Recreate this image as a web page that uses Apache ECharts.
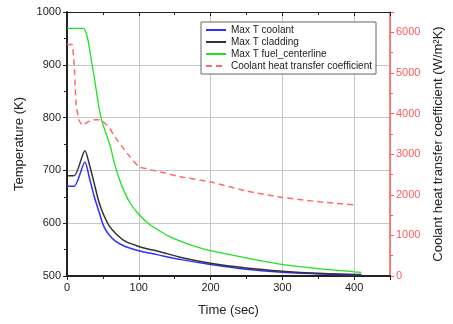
<!DOCTYPE html>
<html><head><meta charset="utf-8">
<script src="https://cdn.jsdelivr.net/npm/echarts@6/dist/echarts.min.js"></script>
<style>html,body{margin:0;padding:0;background:#fff}#c{width:453px;height:324px}</style>
</head><body><div id="c"></div>
<script>
var coolantTime = [0, 10, 25, 31, 38, 44.5, 51, 58, 67.5, 81, 100, 113, 127, 159, 200, 250, 300, 350, 400, 410];
var coolantT    = [670, 670, 716, 687, 650, 622, 595, 579, 566, 556, 548, 544, 540, 531, 522, 513, 507, 504, 502, 502];
var claddingTime = [0, 10, 25, 31, 38, 44.5, 51, 58, 67.5, 81, 100, 113, 127, 159, 200, 250, 300, 350, 400, 410];
var claddingT    = [690, 690, 737, 712, 675, 640, 616, 597, 581, 566, 556, 551, 547, 535, 524, 515, 509, 505, 503, 503];
var fuelTime = [0, 22.5, 35, 47, 60.5, 65, 72, 81, 90, 100, 113, 127, 145, 170, 200, 251, 300, 350, 400, 410];
var fuelT    = [969, 969, 900, 802, 745, 719, 687, 656, 634, 617, 600, 587, 573, 560, 548, 534, 522, 514, 508, 507];
var htcTime = [0, 7, 10, 11.5, 13, 17, 21.5, 28, 35, 47, 58, 67, 77, 88, 100, 113, 130, 159, 200, 251, 300, 352, 405];
var htc     = [5700, 5700, 5230, 4650, 4160, 3830, 3710, 3780, 3850, 3850, 3670, 3420, 3180, 2930, 2690, 2630, 2560, 2440, 2317, 2088, 1934, 1826, 1744];
var xLabels = [0, 100, 200, 300, 400];

function pairs(xs, ys){ return xs.map(function(x,i){ return [x, ys[i]]; }); }
var font = '"Liberation Sans", Arial, sans-serif';
var chart = echarts.init(document.getElementById('c'));
chart.setOption({
  animation:false,
  backgroundColor:'#fff',
  textStyle:{fontFamily:font},
  grid:{left:67, right:58, top:12, bottom:48, containLabel:false},
  legend:{
    orient:'vertical', left:201, top:22, itemGap:2, itemWidth:20, itemHeight:10,
    padding:[3,4,3,4], borderColor:'#666', borderWidth:1, backgroundColor:'#fff',
    itemStyle:{opacity:0},
    textStyle:{fontSize:10, color:'#222', fontFamily:font},
    data:['Max T coolant','Max T cladding','Max T fuel_centerline','Coolant heat transfer coefficient']
  },
  xAxis:[{
    type:'value', min:0, max:450, interval:100, position:'bottom',
    name:'Time (sec)', nameLocation:'middle', nameGap:28,
    nameTextStyle:{fontSize:13, color:'#222', fontFamily:font},
    axisLine:{show:true, onZero:false, lineStyle:{color:'#222', width:2}},
    axisTick:{show:true, inside:false, length:4, lineStyle:{color:'#222'}},
    minorTick:{show:true, splitNumber:2, length:3, lineStyle:{color:'#222'}},
    axisLabel:{fontSize:11, color:'#222', margin:6, showMaxLabel:false, fontFamily:font,
      formatter:function(v){ return xLabels.indexOf(v) >= 0 ? String(v) : ''; }},
    splitLine:{show:true, lineStyle:{color:'#c8c8c8', width:1}}
  },{
    type:'value', min:0, max:450, interval:100, position:'top',
    axisLine:{show:true, onZero:false, lineStyle:{color:'#222', width:1}},
    axisTick:{show:true, inside:true, length:4, lineStyle:{color:'#222'}},
    minorTick:{show:true, splitNumber:2, length:3, lineStyle:{color:'#222'}},
    axisLabel:{show:false}, splitLine:{show:false}
  }],
  yAxis:[{
    type:'value', min:500, max:1000, interval:100, position:'left',
    name:'Temperature (K)', nameLocation:'middle', nameGap:40, nameRotate:90,
    nameTextStyle:{fontSize:13, color:'#222', fontFamily:font},
    axisLine:{show:true, onZero:false, lineStyle:{color:'#222', width:2}},
    axisTick:{show:true, inside:false, length:4, lineStyle:{color:'#222'}},
    minorTick:{show:true, splitNumber:2, length:3, lineStyle:{color:'#222'}},
    axisLabel:{fontSize:11, color:'#222', margin:6, fontFamily:font, formatter:function(v){ return String(v); }},
    splitLine:{show:true, lineStyle:{color:'#c8c8c8', width:1}}
  },{
    type:'value', min:0, max:6500, interval:1000, position:'right',
    name:'Coolant heat transfer coefficient (W/m\u00b2K)', nameLocation:'middle', nameGap:42, nameRotate:90,
    nameTextStyle:{fontSize:13, color:'#222', fontFamily:font},
    axisLine:{show:true, onZero:false, lineStyle:{color:'#ff5a5a', width:1.5}},
    axisTick:{show:true, inside:false, length:4, lineStyle:{color:'#ff5a5a'}},
    minorTick:{show:true, splitNumber:2, length:3, lineStyle:{color:'#ff5a5a'}},
    axisLabel:{fontSize:11, color:'#ff5a5a', margin:6, showMaxLabel:false, fontFamily:font, formatter:function(v){ return String(v); }},
    splitLine:{show:false}
  }],
  series:[
    {name:'Max T coolant', type:'line', xAxisIndex:0, yAxisIndex:0, smooth:0.25, showSymbol:false, symbol:'none',
     lineStyle:{color:'#2f2fff', width:1.5}, itemStyle:{color:'#2f2fff'}, data:pairs(coolantTime, coolantT)},
    {name:'Max T cladding', type:'line', xAxisIndex:0, yAxisIndex:0, smooth:0.25, showSymbol:false, symbol:'none',
     lineStyle:{color:'#333', width:1.5}, itemStyle:{color:'#333'}, data:pairs(claddingTime, claddingT)},
    {name:'Max T fuel_centerline', type:'line', xAxisIndex:0, yAxisIndex:0, smooth:0.25, showSymbol:false, symbol:'none',
     lineStyle:{color:'#22e022', width:1.3}, itemStyle:{color:'#22e022'}, data:pairs(fuelTime, fuelT)},
    {name:'Coolant heat transfer coefficient', type:'line', xAxisIndex:0, yAxisIndex:1, smooth:0.1, showSymbol:false, symbol:'none',
     lineStyle:{color:'#ff6b6b', width:1.5, type:[6,4]}, itemStyle:{color:'#ff6b6b'}, data:pairs(htcTime, htc)}
  ]
});
</script></body></html>
